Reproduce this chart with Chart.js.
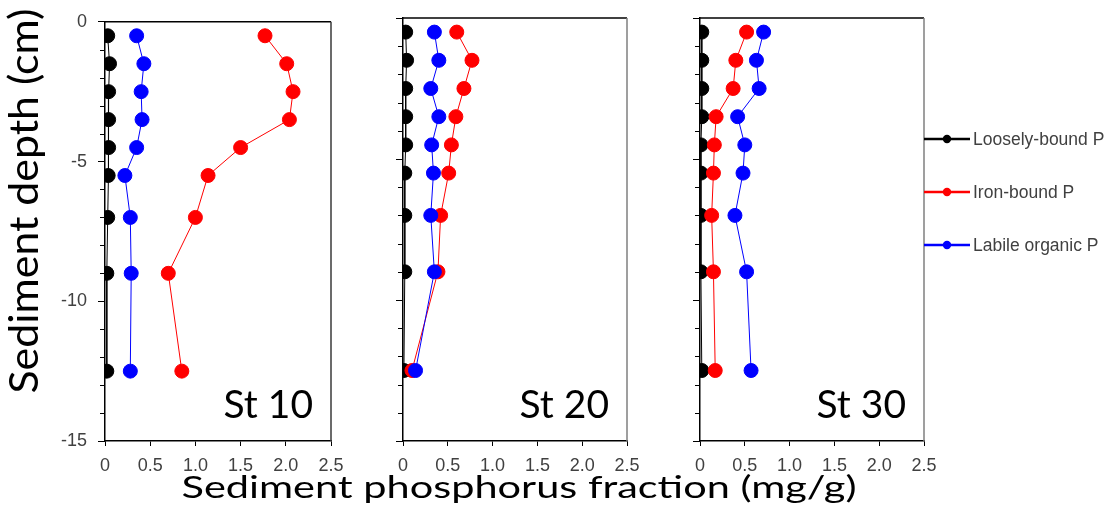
<!DOCTYPE html>
<html><head><meta charset="utf-8">
<script src="https://cdn.jsdelivr.net/npm/chart.js@4"></script>
<style>
html,body{margin:0;padding:0;background:#fff;}
#wrap{position:relative;width:1112px;height:529px;overflow:hidden;}
#wrap canvas{position:absolute;left:0;top:0;}
</style></head><body>
<div id="wrap">
<canvas id="c1" width="1112" height="529"></canvas>
<canvas id="c2" width="1112" height="529"></canvas>
<canvas id="c3" width="1112" height="529"></canvas>
</div>
<script>
// ---------- data ----------
const depths = [-0.5, -1.5, -2.5, -3.5, -4.5, -5.5, -7, -9, -12.5];
const stationNames = ['St 10', 'St 20', 'St 30'];
const seriesNames = ['Loosely-bound P', 'Iron-bound P', 'Labile organic P'];

const st10Loose  = [0.03, 0.05, 0.04, 0.04, 0.04, 0.035, 0.03, 0.02, 0.02];
const st10Iron   = [1.77, 2.01, 2.08, 2.04, 1.50, 1.14, 1.00, 0.70, 0.85];
const st10Labile = [0.35, 0.43, 0.40, 0.41, 0.35, 0.22, 0.28, 0.29, 0.28];

const st20Loose  = [0.03, 0.04, 0.03, 0.03, 0.03, 0.02, 0.02, 0.02, 0.01];
const st20Iron   = [0.60, 0.77, 0.68, 0.59, 0.54, 0.51, 0.42, 0.39, 0.10];
const st20Labile = [0.35, 0.40, 0.31, 0.40, 0.32, 0.34, 0.31, 0.35, 0.14];

const st30Loose  = [0.02, 0.02, 0.02, 0.02, 0.01, 0.01, 0.01, 0.01, 0.02];
const st30Iron   = [0.52, 0.40, 0.37, 0.18, 0.16, 0.15, 0.13, 0.15, 0.17];
const st30Labile = [0.71, 0.63, 0.66, 0.42, 0.50, 0.48, 0.39, 0.52, 0.57];

const xTickValues = [0, 0.5, 1, 1.5, 2, 2.5];
const yMajorTicks = [0, -5, -10, -15];
const yMinorTicks = [-1, -2, -3, -4, -6, -7, -8, -9, -11, -12, -13, -14];
const xAxisTitle = 'Sediment phosphorus fraction (mg/g)';
const yAxisTitle = 'Sediment depth (cm)';

// ---------- styling / layout ----------
const seriesColors = ['#000000', '#FF0000', '#0000FF'];
const W = 1112, H = 529;
const PLOT_TOP = 18, PLOT_BOTTOM = 441;
const panels = [
  { id: 'c1', left: 105, right: 331, showLabels: true,  frame: '#3a3a3a', loose: st10Loose, iron: st10Iron, labile: st10Labile },
  { id: 'c2', left: 403, right: 627, showLabels: false, frame: '#7f7f7f', loose: st20Loose, iron: st20Iron, labile: st20Labile },
  { id: 'c3', left: 700, right: 924, showLabels: false, frame: '#7f7f7f', loose: st30Loose, iron: st30Iron, labile: st30Labile }
];
const TICK_FONT = { family: '"Liberation Sans", Arial, sans-serif', size: 18 };
const TICK_COLOR = '#404040';
const TITLE_FAMILY = 'Lato, "Open Sans", sans-serif';

function pts(xs) { return xs.map((x, i) => ({ x: x, y: depths[i] })); }

const minorTicksPlugin = {
  id: 'minorTicks',
  beforeDatasetsDraw(chart) {
    const ys = chart.scales.y, ctx = chart.ctx;
    ctx.save();
    ctx.strokeStyle = '#000'; ctx.lineWidth = 1;
    yMinorTicks.forEach(v => {
      const y = Math.round(ys.getPixelForValue(v)) + 0.5;
      ctx.beginPath(); ctx.moveTo(ys.right - 5, y); ctx.lineTo(ys.right, y); ctx.stroke();
    });
    ctx.restore();
  }
};

const framePlugin = {
  id: 'frame',
  beforeDatasetsDraw(chart, args, opts) {
    const a = chart.chartArea, ctx = chart.ctx;
    ctx.save();
    ctx.lineWidth = 1.5;
    ctx.strokeStyle = '#000';
    ctx.beginPath(); ctx.moveTo(a.left, a.top); ctx.lineTo(a.right, a.top); ctx.stroke();
    ctx.strokeStyle = opts.color;
    ctx.beginPath(); ctx.moveTo(a.right, a.top); ctx.lineTo(a.right, a.bottom); ctx.stroke();
    ctx.restore();
  }
};

const stationPlugin = {
  id: 'station',
  afterDatasetsDraw(chart, args, opts) {
    const a = chart.chartArea, ctx = chart.ctx;
    ctx.save();
    ctx.font = '39px ' + TITLE_FAMILY;
    ctx.fillStyle = '#000';
    ctx.textAlign = 'right';
    ctx.textBaseline = 'alphabetic';
    ctx.fillText(opts.text, a.right - 18, a.bottom - 23);
    ctx.restore();
  }
};

const legendPlugin = {
  id: 'sideLegend',
  afterDraw(chart, args, opts) {
    if (!opts.show) return;
    const a = chart.chartArea, ctx = chart.ctx;
    ctx.save();
    chart.data.datasets.slice().sort((p, q) => p.legendIndex - q.legendIndex).forEach((ds, i) => {
      const y = 139 + i * 53;
      ctx.strokeStyle = ds.borderColor; ctx.lineWidth = 2.5;
      ctx.beginPath(); ctx.moveTo(a.right, y); ctx.lineTo(a.right + 46, y); ctx.stroke();
      ctx.fillStyle = ds.borderColor;
      ctx.beginPath(); ctx.arc(a.right + 23, y, 4.2, 0, Math.PI * 2); ctx.fill();
      ctx.fillStyle = '#404040';
      ctx.font = '17.5px "Liberation Sans", Arial, sans-serif';
      ctx.textAlign = 'left'; ctx.textBaseline = 'middle';
      ctx.fillText(ds.label, a.right + 49, y + 1);
    });
    ctx.restore();
  }
};

const titlesPlugin = {
  id: 'axisTitles',
  afterDraw(chart, args, opts) {
    if (!opts.show) return;
    const ctx = chart.ctx;
    ctx.save();
    ctx.fillStyle = '#000';
    ctx.textBaseline = 'alphabetic';
    ctx.textAlign = 'center';
    // x title
    ctx.font = '31px ' + TITLE_FAMILY;
    let w = ctx.measureText(xAxisTitle).width;
    ctx.save();
    ctx.translate(519, 498);
    ctx.scale(675 / w, 1);
    ctx.fillText(xAxisTitle, 0, 0);
    ctx.restore();
    // y title
    ctx.font = '40px ' + TITLE_FAMILY;
    w = ctx.measureText(yAxisTitle).width;
    ctx.save();
    ctx.translate(38, 201);
    ctx.rotate(-Math.PI / 2);
    ctx.scale(385 / w, 1);
    ctx.fillText(yAxisTitle, 0, 0);
    ctx.restore();
    ctx.restore();
  }
};

panels.forEach((p, idx) => {
  const seriesData = [p.loose, p.iron, p.labile];
  const datasets = seriesData.map((vals, i) => ({
    label: seriesNames[i],
    legendIndex: i,
    data: pts(vals),
    showLine: true,
    borderColor: seriesColors[i],
    backgroundColor: seriesColors[i],
    borderWidth: 1,
    pointRadius: 7,
    pointBorderWidth: 1,
    pointBackgroundColor: seriesColors[i],
    pointBorderColor: seriesColors[i],
    order: 3 - i
  }));
  const yWidth = p.showLabels ? p.left : 20;
  new Chart(document.getElementById(p.id), {
    type: 'scatter',
    data: { datasets },
    options: {
      responsive: false,
      animation: false,
      events: [],
      layout: { padding: { left: p.left - yWidth, right: W - p.right, top: PLOT_TOP, bottom: 0 } },
      plugins: {
        legend: { display: false },
        tooltip: { enabled: false },
        frame: { color: p.frame },
        station: { text: stationNames[idx] },
        sideLegend: { show: idx === 2 },
        axisTitles: { show: idx === 0 }
      },
      scales: {
        x: {
          type: 'linear', min: 0, max: 2.5,
          afterBuildTicks: s => { s.ticks = xTickValues.map(v => ({ value: v })); },
          afterFit: s => { s.height = H - PLOT_BOTTOM; },
          grid: { drawOnChartArea: false, drawTicks: true, tickLength: 5, tickColor: '#000', tickWidth: 1 },
          border: { display: true, color: '#000', width: 1.5 },
          ticks: { font: TICK_FONT, color: TICK_COLOR, padding: 9, maxRotation: 0, autoSkip: false }
        },
        y: {
          type: 'linear', min: -15, max: 0,
          afterBuildTicks: s => { s.ticks = yMajorTicks.map(v => ({ value: v })); },
          afterFit: s => { s.width = yWidth; },
          grid: { drawOnChartArea: false, drawTicks: true, tickLength: 7, tickColor: '#000', tickWidth: 1 },
          border: { display: true, color: '#000', width: 1.5 },
          ticks: { display: p.showLabels, font: TICK_FONT, color: TICK_COLOR, padding: 11, autoSkip: false }
        }
      }
    },
    plugins: [minorTicksPlugin, framePlugin, stationPlugin, legendPlugin, titlesPlugin]
  });
});
</script>
</body></html>
